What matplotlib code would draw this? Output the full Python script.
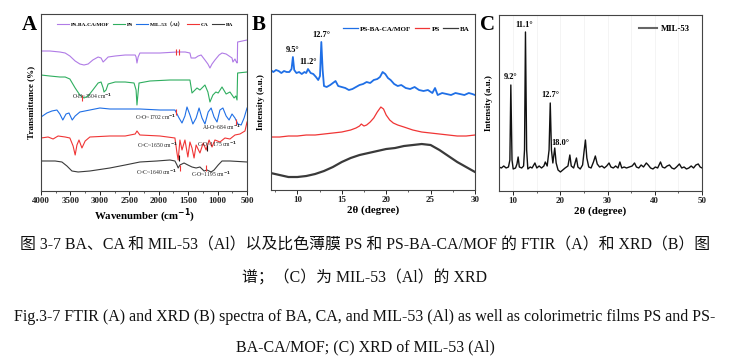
import numpy as np
import matplotlib
matplotlib.use('Agg')
import matplotlib.pyplot as plt
from matplotlib.ticker import MultipleLocator

SERIF = ['Liberation Serif', 'DejaVu Serif', 'Noto Sans CJK SC']
plt.rcParams['font.family'] = SERIF
plt.rcParams['font.weight'] = 'bold'

# ---- panel A: FTIR (wavenumber, transmittance a.u.) ----
wn_mof = [4000,3850,3680,3590,3510,3420,3340,3270,3200,3120,3030,2980,2945,2910,2860,2740,2570,2400,2385,
          2370,2350,2320,1980,1690,1550,1470,1450,1380,1330,1280,1215,1165,1130,1095,1045,975,925,855,805,
          755,740,705,690,670,665,660,500]
t_mof = [140,140,139,138,135,130,127,126,127,131,134,133,129,131,134,135,136,136,134,128,134,138,138,139,
         139,138,133,133,135,136,131,127,123,127,131,136,138,137,135,133,129,132,130,128,129,149,151]

wn_ps = [4000,3850,3680,3590,3510,3420,3340,3270,3200,3120,3030,2980,2945,2930,2895,2860,2740,2570,2420,
         2385,2370,2350,2335,2150,1810,1470,1435,1350,1300,1215,1165,1130,1080,1030,990,925,855,790,720,
         690,670,660,500]
t_ps = [116,115,114,114,112,103,96,93,95,101,108,109,103,99,101,107,109,109,108,101,86,99,108,110,111,111,
        98,103,101,106,99,89,96,99,98,104,97,99,93,95,91,118,119]

wn_mil = [4000,3900,3815,3730,3680,3630,3575,3525,3470,3420,3340,3170,3000,2830,2570,2320,1980,1725,1690,
          1655,1605,1555,1520,1470,1420,1365,1315,1265,1215,1160,1110,1060,1010,960,910,855,805,755,705,
          655,600,550,500]
t_mil = [74,78,80,81,77,71,77,78,71,75,79,81,83,82,82,82,81,81,77,73,68,75,84,76,67,73,83,73,67,79,83,74,
         69,81,83,75,71,77,73,67,66,73,83]

wn_ca = [4000,3880,3795,3710,3590,3510,3455,3420,3390,3355,3305,3250,3170,2830,2570,2400,2370,2320,1980,
         1725,1690,1670,1655,1640,1605,1555,1505,1470,1435,1400,1365,1300,1245,1195,1145,1095,1045,960,
         875,790,705,620,535,500]
t_ca = [53,54,52,55,54,53,45,36,46,51,43,50,54,55,55,57,60,56,55,53,38,31,41,51,41,51,34,49,43,33,46,38,
        48,41,51,44,51,49,53,52,56,57,60,69]

wn_ba = [4000,3760,3645,3560,3475,3370,3170,2830,2570,2320,2030,1810,1725,1690,1670,1640,1570,1505,1435,
         1365,1300,1230,1180,1110,1060,990,925,790,500]
t_ba = [30,30,29,25,20,19,20,23,26,29,30,31,30,26,23,26,28,26,24,23,24,20,21,19,21,26,30,30,29]

# ---- panel B: XRD of films ----
tt_mof = [7.0,7.3,7.6,7.9,8.2,8.5,8.8,9.1,9.35,9.5,9.65,9.9,10.2,10.5,10.8,11.0,11.2,11.5,11.8,12.1,12.35,
          12.55,12.7,12.85,13.0,13.3,13.7,14.0,14.3,14.6,15.0,15.4,15.8,16.2,16.6,17.0,17.4,17.8,18.2,18.6,
          19.0,19.3,19.6,19.9,20.2,20.5,20.9,21.3,21.7,22.2,22.7,23.2,23.7,24.2,24.7,25.2,25.5,25.8,26.3,
          26.8,27.3,27.8,28.3,28.8,29.3,29.7,30.0]
i_mof = [121,119,121,120,118,120,119,119,122,134,121,118,119,117,119,118,122,118,117,114,111,115,149,121,
         105,104,106,108,110,105,104,103,101,102,104,106,107,109,108,111,112,114,119,117,113,111,107,105,
         106,103,102,104,101,100,101,98,103,96,98,97,96,98,97,96,98,97,96]

tt_ps = [7.0,8,9,10,11,12,13,14,15,16,16.6,17.0,17.2,17.5,17.8,18.2,18.6,19.0,19.4,19.7,20.0,20.4,20.8,
         21.3,22.0,23.0,24.0,25.0,26.0,27.0,28.0,29.0,30.0]
i_ps = [54,54,55,55,56,56,57,58,59,61,63,65,67,65,66,69,73,79,84,82,76,71,68,66,64,61,59,58,57,56,55,55,56]

tt_ba = [7.0,8,9,10,11,12,13,14,15,16,17,18,19,20,21,22,23,24,25,26,27,28,29,30]
i_ba = [18,16,14,14,15,17,20,24,29,33,36,38,40,42,43,45,46,47,46,41,35,29,24,19]

# ---- panel C: XRD of MIL-53 ----
tt_mil = [7.0,7.5,8.0,8.5,9.0,9.3,9.5,9.75,10.0,10.5,10.8,11.05,11.3,11.8,12.2,12.4,12.6,12.85,13.1,13.6,
          14.0,14.6,15.0,15.5,16.0,16.5,16.8,17.2,17.6,17.85,18.1,18.4,18.8,19.1,19.5,20.0,20.5,21.0,21.6,
          22.0,22.3,22.8,23.4,23.7,24.2,24.7,25.0,25.3,25.6,26.0,26.5,27.0,27.4,27.8,28.3,28.8,29.3,29.8,
          30.3,30.7,31.2,31.7,32.2,32.6,33.0,33.5,34.0,34.6,35.2,35.7,36.1,36.6,37.1,37.6,38.2,38.6,39.1,
          39.6,40.1,40.6,41.2,41.6,42.1,42.6,43.1,43.6,44.1,44.6,45.2,45.7,46.2,46.7,47.2,47.7,48.2,48.7,
          49.2,49.6,50.0]
i_mil = [24,23,25,23,24,31,106,31,22,23,27,34,24,23,25,41,159,41,22,24,23,28,23,25,23,25,29,25,41,88,41,
         28,43,28,21,19,21,23,25,36,25,23,33,24,22,26,39,51,33,24,23,29,35,27,24,25,23,25,28,24,23,25,23,
         29,23,24,23,24,25,28,24,23,26,24,28,26,23,22,24,23,29,24,23,25,26,23,22,24,27,23,24,22,23,25,23,
         26,27,24,23]

C_MOF, C_PS, C_MIL, C_CA, C_BA = '#b07be6', '#2fae5f', '#1f6fe6', '#f03535', '#3a3a3a'

fig = plt.figure(figsize=(7.3, 3.62), dpi=100)
axA = fig.add_axes([0.0562, 0.4724, 0.2822, 0.4889])
axB = fig.add_axes([0.3708, 0.4751, 0.2799, 0.4862])
axC = fig.add_axes([0.6836, 0.4724, 0.2781, 0.4862])

def style(ax):
    for s in ax.spines.values():
        s.set_color('#444444')
        s.set_linewidth(0.8)
    ax.tick_params(axis='x', which='major', direction='out', length=3, width=0.7,
                   labelsize=6.5, pad=1.5, colors='#222222')
    ax.tick_params(axis='x', which='minor', direction='out', length=1.6, width=0.6, colors='#444444')
    ax.tick_params(axis='y', left=False, labelleft=False)
    for lb in ax.get_xticklabels():
        lb.set_fontweight('bold')

# A
axA.plot(wn_mof, t_mof, color=C_MOF, lw=0.8, label='PS-BA-CA/MOF')
axA.plot(wn_ps, t_ps, color=C_PS, lw=0.8, label='PS')
axA.plot(wn_mil, t_mil, color=C_MIL, lw=0.8, label='MIL-53（Al）')
axA.plot(wn_ca, t_ca, color=C_CA, lw=0.8, label='CA')
axA.plot(wn_ba, t_ba, color=C_BA, lw=0.8, label='BA')
axA.set_xlim(4000, 500)
axA.set_ylim(0, 177)
axA.xaxis.set_major_locator(MultipleLocator(500))
axA.xaxis.set_minor_locator(MultipleLocator(250))
style(axA)
axA.set_xlabel('Wavenumber (cm$^{-1}$)', fontsize=7.8, fontweight='bold', labelpad=1)
axA.set_ylabel('Transmittance (%)', fontsize=6.5, fontweight='bold', labelpad=4)
axA.legend(loc='center', bbox_to_anchor=(0.505, 0.94), ncol=5, frameon=False, fontsize=3.9,
           handlelength=2.2, columnspacing=0.6, handletextpad=0.35, borderpad=0, borderaxespad=0)

marks = [(3304, 93, C_CA), (1702, 79, C_CA), (684, 69, C_CA), (1700, 139, C_CA), (1650, 139, C_CA),
         (1650, 33, '#111111'), (1175, 43, '#111111'), (1640, 23, C_CA), (1195, 23, C_CA)]
for x, y, c in marks:
    axA.plot([x], [y], marker='|', ms=4, mew=0.8, color=c)

notes = [('O-H~3304 cm$^{-1}$', 3133, 95, 'center'), ('C=O~1702 cm$^{-1}$', 1700, 74, 'right'),
         ('Al-O~684 cm$^{-1}$', 940, 64, 'center'), ('C=C~1650 cm$^{-1}$', 1672, 46, 'right'),
         ('C-O~1175 cm$^{-1}$', 1010, 47, 'center'), ('C=C~1640 cm$^{-1}$', 1690, 19, 'right'),
         ('C-O~1195 cm$^{-1}$', 1112, 17, 'center')]
for s, x, y, ha in notes:
    axA.text(x, y, s, fontsize=4.1, fontweight='normal', ha=ha, va='center', color='#222222')

# B
axB.plot(tt_mof, i_mof, color=C_MIL, lw=1.3, label='PS-BA-CA/MOF')
axB.plot(tt_ps, i_ps, color=C_CA, lw=0.9, label='PS')
axB.plot(tt_ba, i_ba, color=C_BA, lw=1.6, label='BA')
axB.set_xlim(7, 30)
axB.set_ylim(1, 177)
axB.xaxis.set_major_locator(MultipleLocator(5))
axB.xaxis.set_minor_locator(MultipleLocator(2.5))
style(axB)
axB.set_xlabel('2θ (degree)', fontsize=7.8, fontweight='bold', labelpad=1)
axB.set_ylabel('Intensity (a.u.)', fontsize=6.5, fontweight='bold', labelpad=4)
legB = axB.legend(loc='center', bbox_to_anchor=(0.665, 0.915), ncol=3, frameon=False, fontsize=5.0,
                  handlelength=2.1, columnspacing=0.5, handletextpad=0.3, borderpad=0)
for ln in legB.get_lines():
    ln.set_linewidth(0.9)
for s, x, y in [('9.5°', 9.5, 141), ('11.2°', 11.2, 129), ('12.7°', 12.7, 156)]:
    axB.text(x, y, s, fontsize=6, fontweight='bold', ha='center', va='center')

# C
axC.plot(tt_mil, i_mil, color='#111111', lw=1.0, label='MIL-53')
axC.set_xlim(7, 50)
axC.set_ylim(0, 176)
axC.xaxis.set_major_locator(MultipleLocator(10))
axC.xaxis.set_minor_locator(MultipleLocator(5))
axC.grid(axis='x', which='both', color='#f2f2f2', lw=0.6)
axC.set_axisbelow(True)
style(axC)
axC.set_xlabel('2θ (degree)', fontsize=7.8, fontweight='bold', labelpad=1)
axC.set_ylabel('Intensity (a.u.)', fontsize=6.5, fontweight='bold', labelpad=4)
leg = axC.legend(loc='center right', bbox_to_anchor=(0.96, 0.92), frameon=False, fontsize=6.3,
                 handlelength=2.1, handletextpad=0.4, borderpad=0)
leg.get_lines()[0].set_color('#666666')
leg.get_lines()[0].set_linewidth(1.5)
for s, x, y in [('9.2°', 9.4, 114), ('11.1°', 12.3, 166), ('12.7°', 17.9, 96), ('18.0°', 19.9, 48)]:
    axC.text(x, y, s, fontsize=6, fontweight='bold', ha='center', va='center')

# panel letters
for s, x in [('A', 22), ('B', 252), ('C', 480)]:
    fig.text(x / 730, 1 - 30 / 362, s, fontsize=15, fontweight='bold', ha='left', va='baseline')

# captions
cap_zh1 = '图 3-7 BA、CA 和 MIL-53（Al）以及比色薄膜 PS 和 PS-BA-CA/MOF 的 FTIR（A）和 XRD（B）图'
cap_zh2 = '谱；（C）为 MIL-53（Al）的 XRD'
cap_en1 = 'Fig.3-7 FTIR (A) and XRD (B) spectra of BA, CA, and MIL-53 (Al) as well as colorimetric films PS and PS-'
cap_en2 = 'BA-CA/MOF; (C) XRD of MIL-53 (Al)'
for s, y, fs in [(cap_zh1, 245, 11.4), (cap_zh2, 278, 11.4), (cap_en1, 317, 11.5), (cap_en2, 347, 11.5)]:
    fig.text(0.5, 1 - y / 362, s, fontsize=fs, fontweight='normal', ha='center', va='center',
             family=SERIF, color='#111111')

fig.savefig('out.png', dpi=100)
